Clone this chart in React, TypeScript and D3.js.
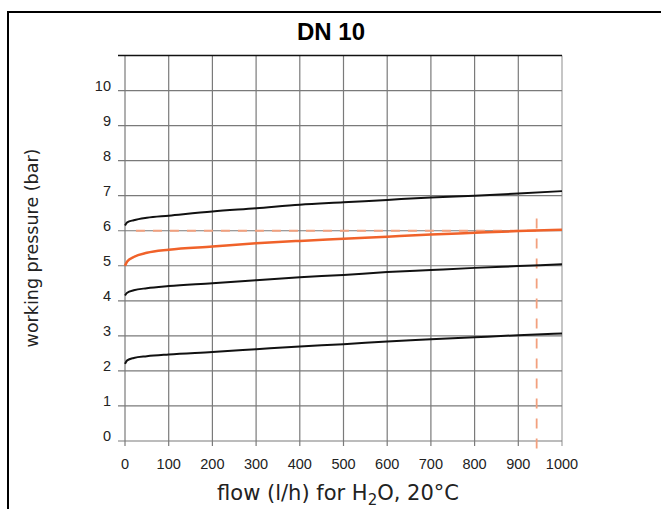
import React from "react";
import * as d3 from "d3";

const flows = [0, 5, 20, 50, 100, 200, 300, 400, 500, 600, 700, 800, 900, 1000];
const curveTop = [6.15, 6.24, 6.3, 6.37, 6.43, 6.55, 6.64, 6.74, 6.81, 6.88, 6.95, 7.0, 7.06, 7.13];
const curveOrange = [5.0, 5.12, 5.25, 5.37, 5.46, 5.55, 5.64, 5.71, 5.77, 5.83, 5.89, 5.94, 5.99, 6.03];
const curveMid = [4.15, 4.23, 4.3, 4.36, 4.42, 4.5, 4.59, 4.67, 4.74, 4.82, 4.88, 4.94, 4.99, 5.04];
const curveLow = [2.2, 2.3, 2.37, 2.42, 2.47, 2.54, 2.62, 2.7, 2.76, 2.84, 2.9, 2.96, 3.02, 3.07];

const xTicks = [0, 100, 200, 300, 400, 500, 600, 700, 800, 900, 1000];
const yTicks = [0, 1, 2, 3, 4, 5, 6, 7, 8, 9, 10];
const readPressure = 6;
const readFlow = 942;

export default function App() {
  const x = d3.scaleLinear().domain([0, 1000]).range([125, 562]);
  const y = d3.scaleLinear().domain([0, 11]).range([441, 55.5]);

  const line = d3
    .line<[number, number]>()
    .x((d) => x(d[0]))
    .y((d) => y(d[1]))
    .curve(d3.curveMonotoneX);

  const series = [
    { vals: curveTop, color: "#111", w: 2 },
    { vals: curveMid, color: "#111", w: 2 },
    { vals: curveLow, color: "#111", w: 2 },
    { vals: curveOrange, color: "#f0622a", w: 2.5 },
  ];

  const gridColor = "#7a7a7a";
  const tickFont = "'Liberation Sans', Arial, sans-serif";
  const labelFont = "'DejaVu Sans', Verdana, sans-serif";

  return (
    <div style={{ position: "absolute", left: 0, top: 0 }}>
      <svg width={661} height={509} style={{ display: "block", background: "#fff" }}>
        <line x1={8} x2={661} y1={12} y2={12} stroke="#000" strokeWidth={2} />
        <line x1={8} x2={8} y1={11} y2={509} stroke="#000" strokeWidth={2} />

        <text
          x={331}
          y={40}
          textAnchor="middle"
          fontFamily={tickFont}
          fontWeight="bold"
          fontSize={24}
          fill="#000"
        >
          DN 10
        </text>

        {xTicks.map((t) => (
          <line
            key={"gx" + t}
            x1={x(t)}
            x2={x(t)}
            y1={y(11)}
            y2={y(0) + 5}
            stroke={t === 1000 ? "#a0a0a0" : gridColor}
            strokeWidth={1.2}
          />
        ))}
        {yTicks.map((t) => (
          <line
            key={"gy" + t}
            x1={x(0) - 7}
            x2={x(1000)}
            y1={y(t)}
            y2={y(t)}
            stroke={gridColor}
            strokeWidth={1.2}
          />
        ))}
        <line x1={x(0) - 7} x2={x(1000)} y1={y(11)} y2={y(11)} stroke="#111" strokeWidth={1.5} />

        <line
          x1={x(25)}
          x2={x(readFlow)}
          y1={y(readPressure)}
          y2={y(readPressure)}
          stroke="#f2a07e"
          strokeWidth={1.8}
          strokeDasharray="9 8"
        />
        <line
          x1={x(readFlow)}
          x2={x(readFlow)}
          y1={y(6.35)}
          y2={y(-0.3)}
          stroke="#f2a07e"
          strokeWidth={1.8}
          strokeDasharray="10 10"
        />

        {series.map((s, i) => (
          <path
            key={"s" + i}
            d={line(flows.map((f, j) => [f, s.vals[j]] as [number, number])) || ""}
            fill="none"
            stroke={s.color}
            strokeWidth={s.w}
          />
        ))}

        {yTicks.map((t) => (
          <text
            key={"yl" + t}
            x={111}
            y={y(t)}
            textAnchor="end"
            fontFamily={tickFont}
            fontSize={14.5}
            fill="#222"
          >
            {t}
          </text>
        ))}
        {xTicks.map((t) => (
          <text
            key={"xl" + t}
            x={x(t)}
            y={469}
            textAnchor="middle"
            fontFamily={tickFont}
            fontSize={14.5}
            fill="#222"
          >
            {t}
          </text>
        ))}

        <text
          x={338}
          y={500}
          textAnchor="middle"
          fontFamily={labelFont}
          fontSize={21}
          fill="#222"
        >
          flow (l/h) for H
          <tspan fontSize={15} dy={5}>2</tspan>
          <tspan dy={-5}>O, 20°C</tspan>
        </text>

        <text
          transform={`translate(38,248) rotate(-90)`}
          textAnchor="middle"
          fontFamily={labelFont}
          fontSize={17.5}
          fill="#222"
        >
          working pressure (bar)
        </text>
      </svg>
    </div>
  );
}
